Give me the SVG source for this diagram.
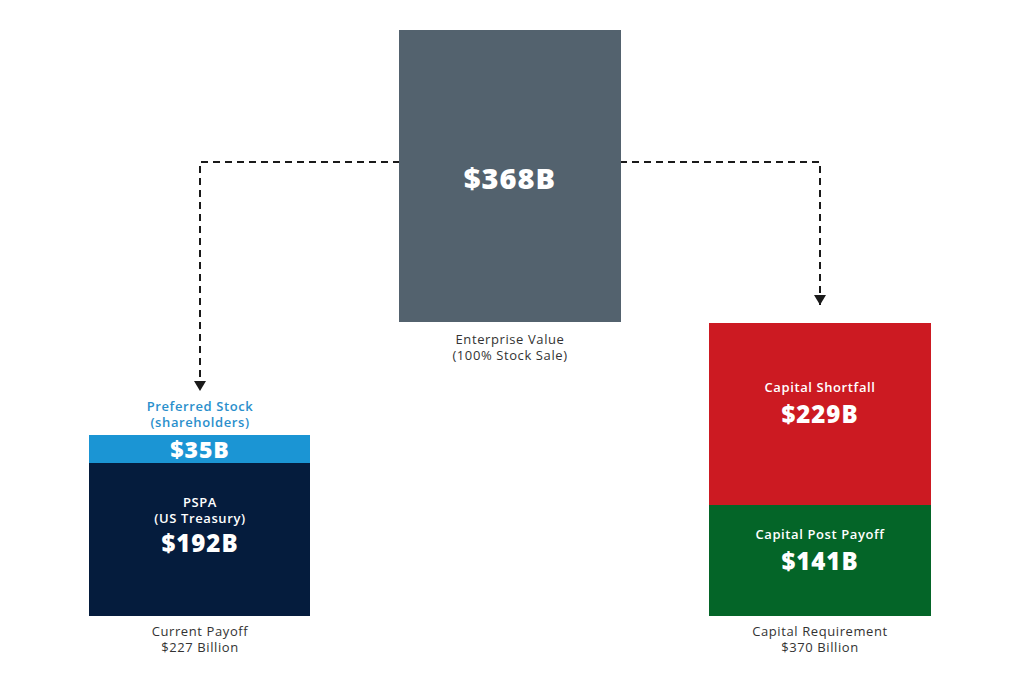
<svg xmlns="http://www.w3.org/2000/svg" width="1024" height="683" viewBox="0 0 1024 683">
<defs>
<marker id="arr" viewBox="0 0 10 12" refX="10" refY="6" markerWidth="10" markerHeight="12" markerUnits="userSpaceOnUse" orient="auto">
<path d="M0,0 L10,6 L0,12 Z" fill="#1a1a1a"/>
</marker>
</defs>
<style>
text{font-family:"Open Sans","Liberation Sans",sans-serif;text-anchor:middle}
.lbl{font-size:13px;fill:#333;letter-spacing:0.6px}
.sm{font-size:13px;fill:#fff;font-weight:600;letter-spacing:0.6px}
.big{font-weight:800;fill:#fff;letter-spacing:1px}
.conn{fill:none;stroke:#1a1a1a;stroke-width:2;stroke-dasharray:7 5}
</style>
<rect width="1024" height="683" fill="#fff"/>
<g id="connectors">
<path class="conn" d="M400,162 H200 V391" marker-end="url(#arr)"/>
<path class="conn" d="M620,162 H820 V305" marker-end="url(#arr)"/>
</g>
<g id="enterprise">
<rect x="399" y="30" width="222" height="292" fill="#53626e"/>
<text class="big" x="510" y="189" font-size="29">$368B</text>
<text class="lbl" x="510" y="344">Enterprise Value</text>
<text class="lbl" x="510" y="360">(100% Stock Sale)</text>
</g>
<g id="current">
<text x="200" y="411" font-size="13" font-weight="600" fill="#2a8fcc" letter-spacing="0.6">Preferred Stock</text>
<text x="200" y="427" font-size="13" font-weight="600" fill="#2a8fcc" letter-spacing="0.6">(shareholders)</text>
<rect x="89" y="435" width="221" height="28" fill="#1b95d4"/>
<text class="big" x="200" y="458" font-size="23">$35B</text>
<rect x="89" y="463" width="221" height="153" fill="#051c3d"/>
<text class="sm" x="200" y="507">PSPA</text>
<text class="sm" x="200" y="523">(US Treasury)</text>
<text class="big" x="200" y="552" font-size="24">$192B</text>
<text class="lbl" x="200" y="636">Current Payoff</text>
<text class="lbl" x="200" y="652">$227 Billion</text>
</g>
<g id="requirement">
<rect x="709" y="323" width="222" height="182" fill="#cc1a22"/>
<text class="sm" x="820" y="392">Capital Shortfall</text>
<text class="big" x="820" y="423" font-size="24">$229B</text>
<rect x="709" y="505" width="222" height="111" fill="#046528"/>
<text class="sm" x="820" y="539">Capital Post Payoff</text>
<text class="big" x="820" y="570" font-size="24">$141B</text>
<text class="lbl" x="820" y="636">Capital Requirement</text>
<text class="lbl" x="820" y="652">$370 Billion</text>
</g>
</svg>
